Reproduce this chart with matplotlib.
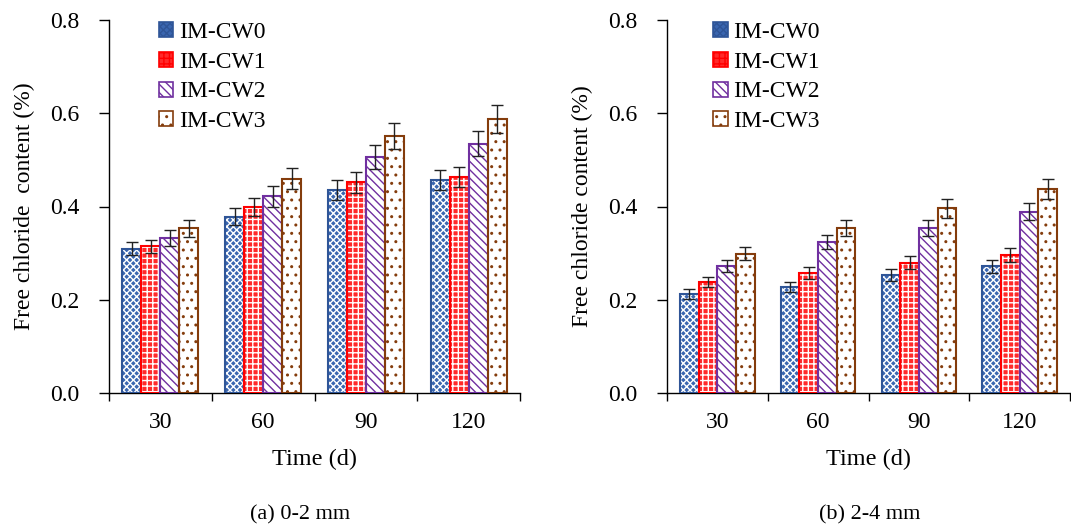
import matplotlib
matplotlib.use("Agg")
import matplotlib.pyplot as plt
from matplotlib.patches import Patch
import numpy as np

plt.rcParams['font.family'] = ['Liberation Serif', 'DejaVu Serif']
plt.rcParams['hatch.linewidth'] = 1.0

times = ["30", "60", "90", "120"]
series = ["IM-CW0", "IM-CW1", "IM-CW2", "IM-CW3"]

# (a) 0-2 mm
a_vals = {
    "IM-CW0": [0.309, 0.378, 0.435, 0.457],
    "IM-CW1": [0.315, 0.399, 0.452, 0.463],
    "IM-CW2": [0.333, 0.422, 0.506, 0.535],
    "IM-CW3": [0.353, 0.460, 0.551, 0.588],
}
a_err = {
    "IM-CW0": [0.014, 0.018, 0.022, 0.022],
    "IM-CW1": [0.014, 0.019, 0.023, 0.022],
    "IM-CW2": [0.017, 0.022, 0.026, 0.026],
    "IM-CW3": [0.018, 0.023, 0.028, 0.030],
}
# (b) 2-4 mm
b_vals = {
    "IM-CW0": [0.212, 0.227, 0.254, 0.272],
    "IM-CW1": [0.238, 0.258, 0.279, 0.296],
    "IM-CW2": [0.273, 0.324, 0.353, 0.389],
    "IM-CW3": [0.299, 0.353, 0.396, 0.438],
}
b_err = {
    "IM-CW0": [0.010, 0.010, 0.013, 0.014],
    "IM-CW1": [0.011, 0.013, 0.014, 0.014],
    "IM-CW2": [0.013, 0.015, 0.017, 0.019],
    "IM-CW3": [0.014, 0.017, 0.020, 0.021],
}

edge_colors = ["#2F5597", "#FF0000", "#7030A0", "#843C0C"]
face_colors = ["#3A66B0", "#FF2A2A", "white", "white"]
hatch_colors = ["white", "white", "#7030A0", "#843C0C"]
hatches = ["xxxxx", "+++", "\\\\\\\\", ".."]

fig = plt.figure(figsize=(10.71, 5.28), dpi=100)
axA = fig.add_axes([109/1071, 135/528, 411/1071, 373/528])
axB = fig.add_axes([667/1071, 135/528, 403/1071, 373/528])

bw = 0.185
fs = 17

def draw(ax, vals, errs, ylabel, legend_x):
    x = np.arange(len(times))
    handles = []
    for i, s in enumerate(series):
        pos = x + (i - 1.5) * bw
        ax.bar(pos, vals[s], bw, color=face_colors[i], edgecolor=hatch_colors[i],
               hatch=hatches[i], linewidth=0, zorder=2)
        ax.bar(pos, vals[s], bw, color='none', edgecolor=edge_colors[i],
               linewidth=1.5, zorder=3)
        ax.errorbar(pos, vals[s], yerr=errs[s], fmt='none', ecolor='#222222',
                    elinewidth=1.0, capsize=4.5, capthick=1.0, zorder=4)
        handles.append(Patch(facecolor=face_colors[i], edgecolor=edge_colors[i],
                             hatch=hatches[i], linewidth=1.2, label=s))
    ax.set_xlim(-0.5, len(times) - 0.5)
    ax.set_ylim(0, 0.8)
    ax.set_yticks([0.0, 0.2, 0.4, 0.6, 0.8])
    ax.set_yticklabels(["0.0", "0.2", "0.4", "0.6", "0.8"])
    ax.set_xticks(x)
    ax.set_xticklabels(times)
    ax.set_xticks(np.arange(-0.5, len(times) + 0.5, 1.0), minor=True)
    ax.tick_params(axis='x', which='major', length=0, pad=14, labelsize=fs)
    ax.tick_params(axis='x', which='minor', length=6, width=1.0, direction='out')
    ax.tick_params(axis='y', length=7, width=1.0, direction='out', pad=14, labelsize=fs)
    for sp in ['top', 'right']:
        ax.spines[sp].set_visible(False)
    for sp in ['left', 'bottom']:
        ax.spines[sp].set_linewidth(1.0)
        ax.spines[sp].set_color('black')
    ax.set_ylabel(ylabel, fontsize=17, labelpad=11)
    ax.set_xlabel("Time (d)", fontsize=17.5, labelpad=11)
    ax.legend(handles=handles, loc='upper left', bbox_to_anchor=(legend_x, 0.995),
              frameon=False, fontsize=17, handlelength=0.6, handleheight=0.6,
              handletextpad=0.25, labelspacing=0.37, borderaxespad=0, borderpad=0)

draw(axA, a_vals, a_err, "Free chloride  content (%)", 0.122)
draw(axB, b_vals, b_err, "Free chloride content (%)", 0.115)

fig.text(300/1071, 1 - 515/528, "(a) 0-2 mm", ha='center', va='center', fontsize=16)
fig.text(870/1071, 1 - 515/528, "(b) 2-4 mm", ha='center', va='center', fontsize=16)

fig.savefig("out.png", dpi=100)
